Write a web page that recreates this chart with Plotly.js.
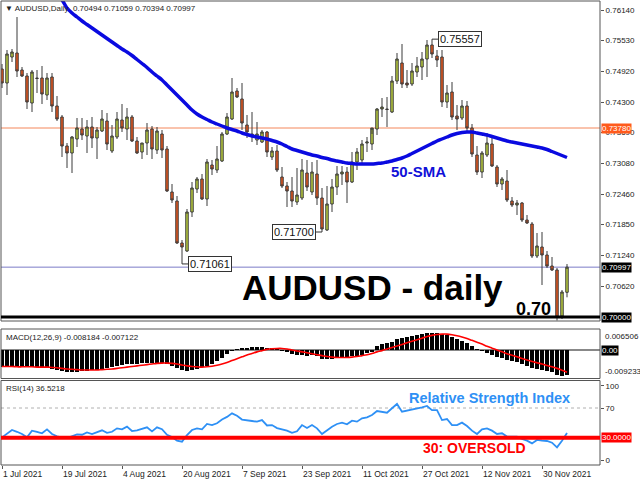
<!DOCTYPE html>
<html><head><meta charset="utf-8">
<script src="https://cdn.plot.ly/plotly-3.0.1.min.js"></script>
<style>html,body{margin:0;padding:0;background:#fff}#chart{width:640px;height:480px}</style>
</head><body><div id="chart"></div>
<script>
// ---------- DATA ----------
const openP = [
0.7496,0.7468,0.7520,0.7528,0.7494,0.7482,0.7428,0.7478,0.7478,0.7444,
0.7480,0.7422,0.7400,0.7342,0.7328,0.7356,0.7376,0.7362,0.7380,0.7358,
0.7372,0.7392,0.7332,0.7360,0.7394,0.7376,0.7400,0.7352,0.7330,0.7348,
0.7376,0.7334,0.7366,0.7336,0.7250,0.7232,0.7148,0.7132,0.7210,0.7256,
0.7276,0.7236,0.7304,0.7294,0.7312,0.7366,0.7396,0.7452,0.7436,0.7384,
0.7366,0.7354,0.7350,0.7370,0.7320,0.7332,0.7280,0.7262,0.7252,0.7230,
0.7238,0.7288,0.7250,0.7286,0.7238,0.7174,0.7226,0.7260,0.7286,0.7290,
0.7270,0.7310,0.7314,0.7348,0.7346,0.7376,0.7416,0.7416,0.7410,0.7472,
0.7508,0.7468,0.7466,0.7490,0.7500,0.7516,0.7544,0.7522,0.7520,0.7430,
0.7450,0.7402,0.7398,0.7422,0.7378,0.7324,0.7290,0.7324,0.7346,0.7300,
0.7266,0.7272,0.7232,0.7224,0.7228,0.7194,0.7186,0.7122,0.7140,0.7124,
0.7102,0.7094,0.7002,0.70494];
const highP = [
0.7506,0.7534,0.7536,0.7600,0.7500,0.7488,0.7494,0.7494,0.7502,0.7488,
0.7488,0.7442,0.7404,0.7348,0.7362,0.7398,0.7398,0.7394,0.7400,0.7380,
0.7414,0.7408,0.7384,0.7410,0.7426,0.7418,0.7404,0.7360,0.7348,0.7388,
0.7382,0.7380,0.7374,0.7342,0.7266,0.7242,0.7154,0.7216,0.7270,0.7280,
0.7286,0.7316,0.7314,0.7342,0.7370,0.7408,0.7478,0.7458,0.7468,0.7404,
0.7410,0.7390,0.7374,0.7372,0.7340,0.7344,0.7300,0.7270,0.7280,0.7298,
0.7316,0.7314,0.7310,0.7314,0.7258,0.7262,0.7276,0.7302,0.7302,0.7300,
0.7330,0.7338,0.7354,0.7360,0.7366,0.7418,0.7438,0.7440,0.7482,0.7528,
0.7546,0.7494,0.7508,0.7520,0.7530,0.7554,0.75557,0.7534,0.7534,0.7464,
0.7470,0.7424,0.7434,0.7432,0.7386,0.7342,0.7332,0.7368,0.7364,0.7304,
0.7280,0.7294,0.7240,0.7234,0.7230,0.7204,0.7190,0.7168,0.7170,0.7132,
0.7120,0.7098,0.7054,0.71059];
const lowP = [
0.7458,0.7444,0.7510,0.7480,0.7480,0.7416,0.7410,0.7448,0.7426,0.7434,
0.7410,0.7392,0.7320,0.7298,0.7288,0.7340,0.7354,0.7328,0.7338,0.7316,
0.7370,0.7334,0.7328,0.7356,0.7370,0.7354,0.7350,0.7326,0.7316,0.7324,
0.7316,0.7326,0.7318,0.7250,0.7228,0.7146,0.71061,0.7130,0.7200,0.7248,
0.7234,0.7222,0.7284,0.7288,0.7310,0.7364,0.7394,0.7438,0.7374,0.7358,
0.7350,0.7344,0.7348,0.7320,0.7314,0.7290,0.7258,0.7220,0.7220,0.7224,
0.7234,0.7252,0.7244,0.7224,0.7170,0.7172,0.7210,0.7244,0.7264,0.7228,
0.7268,0.7294,0.7304,0.7330,0.7334,0.7364,0.7400,0.7380,0.7408,0.7466,
0.7458,0.7458,0.7462,0.7480,0.7474,0.7480,0.7518,0.7500,0.7420,0.7418,
0.7394,0.7374,0.7394,0.7370,0.7320,0.7284,0.7278,0.7320,0.7300,0.7260,
0.7254,0.7230,0.7220,0.7204,0.7190,0.7186,0.7118,0.7118,0.7064,0.7098,
0.7092,0.6993,0.6996,0.70394];
const closeP = [
0.7468,0.7526,0.7530,0.7492,0.7482,0.7430,0.7490,0.7477,0.7446,0.7478,
0.7422,0.7396,0.7342,0.7328,0.7360,0.7378,0.7364,0.7380,0.7358,0.7374,
0.7396,0.7346,0.7362,0.7396,0.7378,0.7400,0.7352,0.7328,0.7348,0.7374,
0.7336,0.7372,0.7334,0.7252,0.7234,0.7148,0.7140,0.7210,0.7258,0.7276,
0.7236,0.7310,0.7296,0.7316,0.7366,0.7400,0.7450,0.7440,0.7388,0.7370,
0.7362,0.7366,0.7370,0.7330,0.7332,0.7294,0.7262,0.7252,0.7232,0.7244,
0.7294,0.7260,0.7290,0.7238,0.7176,0.7226,0.7260,0.7286,0.7290,0.7270,
0.7310,0.7330,0.7346,0.7350,0.7378,0.7416,0.7420,0.7415,0.7472,0.7516,
0.7466,0.7464,0.7492,0.7502,0.7516,0.7544,0.7526,0.7514,0.7430,0.7448,
0.7400,0.7396,0.7422,0.7378,0.7326,0.7290,0.7328,0.7348,0.7302,0.7266,
0.7276,0.7234,0.7224,0.7228,0.7194,0.7188,0.7122,0.7142,0.7124,0.7102,
0.7094,0.7000,0.7050,0.70997];
const sma50 = [
null,null,null,null,null,null,null,null,null,null,
null,0.7644,0.7634,0.7618,0.7608,0.7600,0.7592,0.7585,0.7578,0.7571,
0.7564,0.7557,0.7550,0.7543,0.7536,0.7530,0.7523,0.7515,0.7507,0.7499,
0.7490,0.7482,0.7474,0.7464,0.7454,0.7444,0.7434,0.7424,0.7414,0.7406,
0.7400,0.7395,0.7390,0.7386,0.7382,0.7378,0.7375,0.7372,0.7368,0.7365,
0.7362,0.7360,0.7358,0.7356,0.7353,0.7350,0.7346,0.7341,0.7336,0.7333,
0.7330,0.7327,0.7324,0.7322,0.7319,0.7317,0.7314,0.7312,0.7310,0.7308,
0.7307,0.7306,0.7306,0.7306,0.7306,0.7307,0.7308,0.7310,0.7312,0.7315,
0.7318,0.7322,0.7327,0.7332,0.7337,0.7342,0.7347,0.7352,0.7356,0.7360,
0.7364,0.7367,0.7369,0.7370,0.7370,0.7368,0.7366,0.7364,0.7361,0.7358,
0.7355,0.7352,0.7350,0.7348,0.7346,0.7344,0.7342,0.7340,0.7338,0.7335,
0.7331,0.7327,0.7323,0.7319];
const macdHist = [
-0.0054,-0.0055,-0.0055,-0.0056,-0.0056,-0.0055,-0.0055,-0.0056,-0.0057,-0.0058,
-0.0060,-0.0064,-0.0068,-0.0070,-0.0071,-0.0070,-0.0068,-0.0066,-0.0064,-0.0063,
-0.0061,-0.0058,-0.0054,-0.0050,-0.0048,-0.0046,-0.0045,-0.0044,-0.0043,-0.0042,
-0.0042,-0.0041,-0.0042,-0.0046,-0.0052,-0.0059,-0.0065,-0.0066,-0.0064,-0.0060,
-0.0056,-0.0050,-0.0044,-0.0036,-0.0026,-0.0014,-0.0004,0.0003,0.0006,0.0008,
0.0009,0.0009,0.0009,0.0008,0.0006,0.0004,-0.0002,-0.0008,-0.0013,-0.0017,
-0.0017,-0.0018,-0.0017,-0.0020,-0.0028,-0.0030,-0.0029,-0.0027,-0.0025,-0.0024,
-0.0020,-0.0018,-0.0015,-0.0011,-0.0005,0.0012,0.0018,0.0021,0.0026,0.0034,
0.0040,0.0043,0.0046,0.0049,0.0051,0.0053,0.0055,0.0055,0.0052,0.0047,
0.0042,0.0035,0.0028,0.0021,0.0012,0.0004,-0.0004,-0.0010,-0.0016,-0.0021,
-0.0027,-0.0032,-0.0036,-0.0040,-0.0045,-0.0052,-0.0057,-0.0060,-0.0065,-0.0069,
-0.0072,-0.0079,-0.0083,-0.008184];
const macdSignal = [
-0.0053,-0.0053,-0.0053,-0.0054,-0.0054,-0.0054,-0.0054,-0.0055,-0.0055,-0.0055,
-0.0056,-0.0057,-0.0059,-0.0061,-0.0062,-0.0063,-0.0064,-0.0064,-0.0064,-0.0064,
-0.0063,-0.0062,-0.0061,-0.0059,-0.0057,-0.0055,-0.0053,-0.0051,-0.0049,-0.0047,
-0.0045,-0.0043,-0.0042,-0.0042,-0.0043,-0.0045,-0.0048,-0.0051,-0.0053,-0.0054,
-0.0055,-0.0054,-0.0052,-0.0049,-0.0045,-0.0040,-0.0034,-0.0028,-0.0022,-0.0016,
-0.0011,-0.0006,-0.0002,0.0002,0.0004,0.0005,0.0005,0.0003,0.0000,-0.0003,
-0.0006,-0.0009,-0.0012,-0.0015,-0.0018,-0.0021,-0.0023,-0.0024,-0.0024,-0.0024,
-0.0023,-0.0021,-0.0018,-0.0015,-0.0011,-0.0006,-0.0002,0.0003,0.0008,0.0013,
0.0018,0.0023,0.0028,0.0033,0.0038,0.0043,0.0047,0.0050,0.0051,0.0051,
0.0049,0.0046,0.0042,0.0037,0.0031,0.0025,0.0019,0.0012,0.0006,0.0000,
-0.0006,-0.0012,-0.0017,-0.0022,-0.0027,-0.0032,-0.0037,-0.0041,-0.0045,-0.0050,
-0.0054,-0.0059,-0.0065,-0.007122];
const rsi14 = [
30.5,36,40.4,38,35,30.5,39.5,38,36,41.3,
35,32,30,29.5,32,34.5,34,37.2,35,38,
40,36.5,38,42.6,41.3,44.9,39,40,42,44,
38.6,44,41.5,34,31,26,24.7,33.6,40.4,42.6,
41.3,48.5,47,49.4,54.5,58,62.8,59.5,54.5,53,
52.5,51.6,53.8,46.5,47,43,41.3,39.5,36.5,38.6,
47,43,47,42.6,35,40.4,44.9,48.5,50.3,48,
52.9,51.6,56.1,57.4,60.5,65.9,65,63.7,69.6,75.4,
65,66.3,68,69.5,70.9,72.7,67.2,67.2,53.8,55.2,
47,47,50.3,45.8,39.5,35,41.3,42.6,39.5,35,
36,31.5,31.5,31.5,28.3,26,22.4,27,26,25.6,
23.3,17,26,36.5];
const dateTickIdx = [0,12,24,36,48,60,72,84,96,108];
const dateTickText = ["1 Jul 2021","19 Jul 2021","4 Aug 2021","20 Aug 2021","7 Sep 2021",
  "23 Sep 2021","11 Oct 2021","27 Oct 2021","12 Nov 2021","30 Nov 2021"];
const priceTicks = [0.7614,0.7553,0.7492,0.7430,0.7369,0.7308,0.7246,0.7185,0.7124,0.7062];
const priceTickText = ["0.76140","0.75530","0.74920","0.74300","0.73690","0.73080","0.72460","0.71850","0.71240","0.70620"];
const rsiTicks = [0,70,100];
const rsiTickText = ["0","70","100"];
const levelOrange = 0.7378, levelBid = 0.70997, levelRound = 0.7000;
const rsiOversold = 30, rsiOverbought = 70;
const macdMaxLbl = "0.006506", macdMinLbl = "-0.009233";
const markLabels = [ {bar:36, price:0.71061, text:"0.71061", side:"right"},
                     {bar:64, price:0.71700, text:"0.71700", side:"left"},
                     {bar:86, price:0.75557, text:"0.75557", side:"right"} ];

// ---------- CHART ----------
const idx = openP.map((_, i) => i);
const FONT = "Liberation Sans, Arial, sans-serif";
const dMain = [0.31034, 1], dMacd = [0.18642, 0.29310], dRsi = [0, 0.18211];

const traces = [
  {type:"candlestick", x:idx, open:openP, high:highP, low:lowP, close:closeP,
   xaxis:"x", yaxis:"y", whiskerwidth:0, line:{width:1},
   increasing:{fillcolor:"#bcd03c", line:{color:"#3a3a3a", width:1}},
   decreasing:{fillcolor:"#e8561c", line:{color:"#3a3a3a", width:1}},
   hoverinfo:"skip", showlegend:false},
  {type:"scatter", mode:"lines", x:idx, y:sma50, xaxis:"x", yaxis:"y",
   line:{color:"#0a0ae0", width:3.5, shape:"spline"}, connectgaps:false, showlegend:false, hoverinfo:"skip"},
  {type:"bar", x:idx, y:macdHist, xaxis:"x", yaxis:"y2", width:0.62,
   marker:{color:"#000", line:{width:0}}, showlegend:false, hoverinfo:"skip"},
  {type:"scatter", mode:"lines", x:idx, y:macdSignal, xaxis:"x", yaxis:"y2",
   line:{color:"#ff0000", width:1.6, shape:"spline"}, showlegend:false, hoverinfo:"skip"},
  {type:"scatter", mode:"lines", x:idx, y:rsi14, xaxis:"x", yaxis:"y3",
   line:{color:"#2e90f5", width:1.8}, showlegend:false, hoverinfo:"skip"}
];

const hline = (yref, y, color, width, dash) => ({type:"line", xref:"x", yref:yref,
  x0:-0.2, x1:119.6, y0:y, y1:y, line:{color:color, width:width, dash:dash||"solid"}, layer:"below"});
const frame = (d) => ({type:"rect", xref:"paper", yref:"paper", x0:0, x1:1, y0:d[0], y1:d[1],
  line:{color:"#555", width:1}, fillcolor:"rgba(0,0,0,0)", layer:"above"});

const shapes = [
  hline("y", levelOrange, "#f4875a", 1),
  hline("y", levelBid, "#7b7bc8", 1),
  hline("y2", 0, "#606060", 1.5),
  hline("y3", rsiOverbought, "#b0b0b0", 1, "dot"),
  frame(dMain), frame(dMacd), frame(dRsi),
  {type:"line", xref:"x", yref:"y", x0:-0.2, x1:119.6, y0:levelRound, y1:levelRound,
   line:{color:"#000", width:3}, layer:"above"},
  {type:"line", xref:"x", yref:"y3", x0:-0.2, x1:119.6, y0:rsiOversold, y1:rsiOversold,
   line:{color:"#ff0000", width:4}, layer:"above"}
];
markLabels.forEach(m => {
  const dx = m.side === "right" ? 1.2 : -1.2;
  shapes.push({type:"line", xref:"x", yref:"y", x0:m.bar, x1:m.bar+dx, y0:m.price, y1:m.price,
    line:{color:"#333", width:1}, layer:"above"});
});

const ann = [];
const txt = (o) => Object.assign({showarrow:false, font:{family:FONT, size:8, color:"#222"}}, o);
ann.push(txt({xref:"paper", yref:"paper", x:0.004, y:1, xanchor:"left", yanchor:"top", yshift:-1,
  text:"▼ AUDUSD,Daily  0.70494 0.71059 0.70394 0.70997"}));
ann.push(txt({xref:"paper", yref:"paper", x:0.005, y:dMacd[1], xanchor:"left", yanchor:"top", yshift:-2,
  text:"MACD(12,26,9) -0.008184 -0.007122"}));
ann.push(txt({xref:"paper", yref:"paper", x:0.005, y:dRsi[1], xanchor:"left", yanchor:"top", yshift:-1,
  text:"RSI(14) 36.5218"}));
// right side level boxes
const boxLbl = (yref, y, text, bg, ya) => txt({xref:"paper", yref:yref, x:1, y:y, xanchor:"left", xshift:1,
  yanchor:ya||"middle", text:text, bgcolor:bg, borderpad:0, font:{family:FONT, size:8, color:"#fff"}});
ann.push(boxLbl("y", levelOrange, "0.73780", "#ff5a1c"));
ann.push(boxLbl("y", levelBid, "0.70997", "#000"));
ann.push(boxLbl("y", levelRound, "0.70000", "#000"));
ann.push(boxLbl("y3", rsiOversold, "30.0000", "#ff0000"));
ann.push(txt({xref:"paper", yref:"y2 domain", x:1, y:1, xanchor:"left", yanchor:"top", xshift:3, yshift:-1, text:macdMaxLbl}));
ann.push(txt({xref:"paper", yref:"y2 domain", x:1, y:0, xanchor:"left", yanchor:"bottom", xshift:3, yshift:1, text:macdMinLbl}));
ann.push(boxLbl("y2", 0, "0.00", "#000"));
// marked price boxes
markLabels.forEach(m => {
  ann.push(txt({xref:"x", yref:"y", x:m.bar, y:m.price, xanchor: m.side === "right" ? "left" : "right",
    xshift: m.side === "right" ? 6 : -6, yanchor:"middle", text:m.text, bgcolor:"#fff",
    bordercolor:"#333", borderwidth:1, borderpad:1, font:{family:FONT, size:11, color:"#111"}}));
});
// date labels (left aligned at tick, MT4 style)
dateTickIdx.forEach((t, k) => ann.push(txt({xref:"x", yref:"paper", x:t, y:0, xanchor:"left",
  yanchor:"top", xshift:-1, yshift:-2, text:dateTickText[k], font:{family:FONT, size:8.5, color:"#222"}})));
// big texts
const big = (x, y, text, size, color) => ({xref:"paper", yref:"paper", x:x, y:y, xanchor:"left", yanchor:"middle",
  showarrow:false, text:"<b>"+text+"</b>", font:{family:FONT, size:size, color:color}});
ann.push(big((240-1)/599, (465-287)/464, "AUDUSD - daily", 35, "#000"));
ann.push(big((514-1)/599, (465-309)/464, "0.70", 18, "#000"));
ann.push(big((389-1)/599, (465-171.5)/464, "50-SMA", 15, "#1010d8"));
ann.push(big((407-1)/599, (465-397.5)/464, "Relative Strength Index", 14.5, "#2e90f5"));
ann.push(big((421-1)/599, (465-448)/464, "30: OVERSOLD", 14, "#ff0000"));

const axCommon = {showgrid:false, zeroline:false, fixedrange:true, showline:false};
const layout = {
  width:640, height:480, margin:{l:1, r:40, t:1, b:15, pad:0},
  paper_bgcolor:"#fff", plot_bgcolor:"rgba(0,0,0,0)", showlegend:false, bargap:0,
  font:{family:FONT, size:8, color:"#222"},
  xaxis:Object.assign({}, axCommon, {domain:[0,1], range:[-0.2,119.6], anchor:"y3",
    tickvals:dateTickIdx, showticklabels:false, ticks:"outside", ticklen:3, tickcolor:"#555",
    rangeslider:{visible:false}}),
  yaxis:Object.assign({}, axCommon, {domain:dMain, range:[0.6992,0.7632], anchor:"x", side:"right",
    tickvals:priceTicks, ticktext:priceTickText, ticks:"outside", ticklen:3, tickcolor:"#555",
    tickfont:{family:FONT, size:8, color:"#222"}}),
  yaxis2:Object.assign({}, axCommon, {domain:dMacd, range:[-0.00915,0.00674], anchor:"x", side:"right",
    showticklabels:false}),
  yaxis3:Object.assign({}, axCommon, {domain:dRsi, range:[-6.7,107], anchor:"x", side:"right",
    tickvals:rsiTicks, ticktext:rsiTickText, ticks:"outside", ticklen:3, tickcolor:"#555",
    tickfont:{family:FONT, size:8, color:"#222"}}),
  shapes:shapes, annotations:ann
};
Plotly.newPlot("chart", traces, layout, {staticPlot:true, displayModeBar:false});
</script></body></html>
